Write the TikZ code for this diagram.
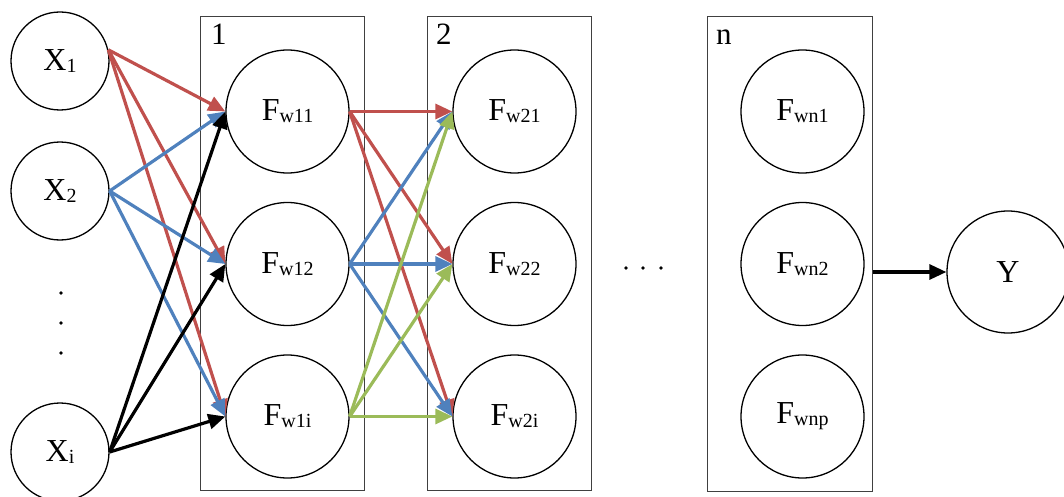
\documentclass[tikz,border=0pt]{standalone}
\usepackage{fontspec}
\setmainfont{Liberation Serif}
\usetikzlibrary{arrows.meta}
\definecolor{cred}{HTML}{C0504D}
\definecolor{cblue}{HTML}{4F81BD}
\definecolor{cgreen}{HTML}{9BBB59}
\definecolor{boxgray}{HTML}{404040}
\newcommand\lowsub[1]{\raisebox{-2pt}{\fontsize{20}{20}\selectfont #1}}
\begin{document}
\begin{tikzpicture}[x=1pt,y=-1pt,
  xnode/.style={circle,draw=black,line width=1.3pt,minimum size=98pt,inner sep=0pt,fill=white,font=\fontsize{32}{38}\selectfont},
  fnode/.style={xnode,minimum size=123pt},
  layerbox/.style={draw=boxgray,line width=1.3pt,minimum width=164pt,minimum height=474pt,inner sep=0pt,anchor=north west},
  layerlab/.style={anchor=base west,inner sep=0pt,font=\fontsize{31}{36}\selectfont},
  conn/.style={line width=3.2pt,-{Triangle[length=17pt,width=15pt]}},
  dotnode/.style={circle,fill=black,inner sep=0pt,minimum size=3.8pt},
]
\useasboundingbox (0,0) rectangle (1064,497);

% layer boxes
\node[layerbox] (box1) at (200,16) {};
\node[layerbox] (box2) at (427,16) {};
\node[layerbox,minimum width=165pt,minimum height=475pt] (boxn) at (707,16) {};
\node[layerlab] (lab1) at (211,45) {1};
\node[layerlab] (lab2) at (436,45) {2};
\node[layerlab] (labn) at (716,45) {n};

% input nodes
\node[xnode] (X1) at (60,61) {X\lowsub{1}};
\node[xnode] (X2) at (60,191) {X\lowsub{2}};
\node[xnode] (Xi) at (60,452) {X\lowsub{i}};
\node[dotnode] (vd1) at (61,293) {};
\node[dotnode] (vd2) at (61,323) {};
\node[dotnode] (vd3) at (61,353) {};

% layer 1
\node[fnode] (F11) at (287.5,111.5) {F\lowsub{w11}};
\node[fnode] (F12) at (287.5,264) {F\lowsub{w12}};
\node[fnode] (F1i) at (287.5,416.5) {F\lowsub{w1i}};
% layer 2
\node[fnode] (F21) at (514.5,111.5) {F\lowsub{w21}};
\node[fnode] (F22) at (514.5,264) {F\lowsub{w22}};
\node[fnode] (F2i) at (514.5,416.5) {F\lowsub{w2i}};
% layer n
\node[fnode] (Fn1) at (802.5,111.5) {F\lowsub{wn1}};
\node[fnode] (Fn2) at (802.5,264) {F\lowsub{wn2}};
\node[fnode] (Fnp) at (802.5,416.5) {F\lowsub{wnp}};

\node[dotnode] (hd1) at (626,268) {};
\node[dotnode] (hd2) at (643,268) {};
\node[dotnode] (hd3) at (661,268) {};

% output
\node[xnode,minimum size=122pt] (Y) at (1008,272) {Y};

% connectors input -> layer 1
\foreach \t in {F11,F12,F1i}{
  \draw[conn,cred] (X1.13) -- (\t.west);
}
\foreach \t in {F11,F12,F1i}{
  \draw[conn,cblue] (X2.east) -- (\t.west);
}
\foreach \t in {F11,F12,F1i}{
  \draw[conn,black] (Xi.east) -- (\t.west);
}
% layer 1 -> layer 2
\foreach \t in {F21,F22,F2i}{
  \draw[conn,cred] (F11.east) -- (\t.west);
}
\foreach \t in {F21,F22,F2i}{
  \draw[conn,cblue] (F12.east) -- (\t.west);
}
\foreach \t in {F21,F22,F2i}{
  \draw[conn,cgreen] (F1i.east) -- (\t.west);
}
% layer n -> output
\draw[conn,black] (boxn.east |- Y.west) -- (Y.west);
\end{tikzpicture}
\end{document}
